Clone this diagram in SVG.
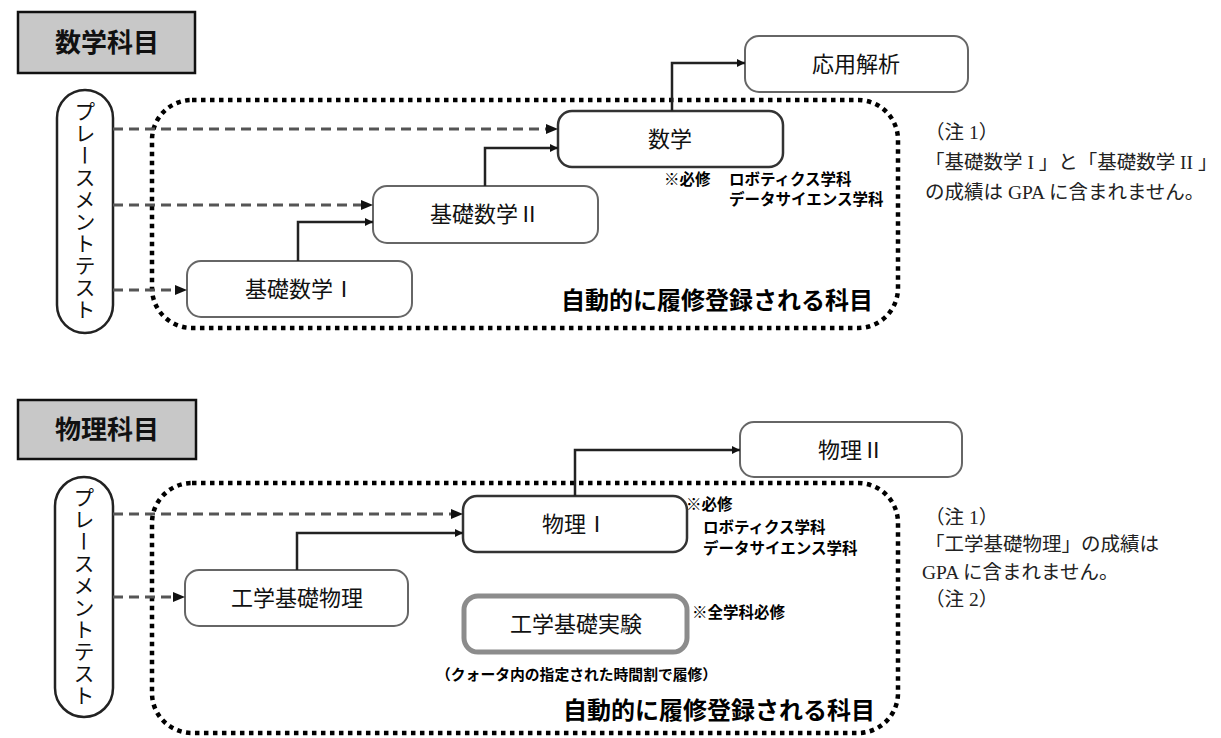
<svg xmlns="http://www.w3.org/2000/svg" width="1221" height="738" viewBox="0 0 1221 738">
<defs>
<marker id="ah" viewBox="0 0 10 10" refX="10" refY="5" markerWidth="10" markerHeight="8" markerUnits="userSpaceOnUse" orient="auto">
<path d="M0,0 L10,5 L0,10 z" fill="#111"/>
</marker>
<style>
.hdr{fill:#c8c8c8;stroke:#111;stroke-width:2.5}
.hdrt{font-family:"Noto Sans CJK JP",sans-serif;font-weight:bold;font-size:26px;fill:#111;text-anchor:middle}
.pill{fill:#fff;stroke:#222;stroke-width:2.5}
.pillt{font-family:"Noto Sans CJK JP",sans-serif;font-size:21px;fill:#111;writing-mode:vertical-rl;text-anchor:middle;letter-spacing:1px}
.box{fill:#fff;stroke:#666;stroke-width:2}
.boxd{fill:#fff;stroke:#333;stroke-width:2.5}
.boxg{fill:#fff;stroke:#8c8c8c;stroke-width:5}
.bt{font-family:"Noto Sans CJK JP",sans-serif;font-size:22px;fill:#111;text-anchor:middle}
.dot{fill:none;stroke:#000;stroke-width:4.5;stroke-dasharray:4.5 4.5}
.dash{fill:none;stroke:#555;stroke-width:3;stroke-dasharray:10 6}
.sol{fill:none;stroke:#222;stroke-width:2.5}
.lbl{font-family:"Noto Sans CJK JP",sans-serif;font-weight:bold;font-size:15.5px;fill:#000}
.auto{font-family:"Noto Sans CJK JP",sans-serif;font-weight:bold;font-size:24px;fill:#000}
.note{font-family:"Liberation Serif","Noto Sans CJK JP",serif;font-size:19.5px;fill:#222}
</style>
</defs>

<!-- ===== Math section ===== -->
<g id="math-header">
<rect class="hdr" x="18" y="12" width="177" height="61"/>
<text class="hdrt" x="107" y="52">数学科目</text>
</g>
<g id="math-auto-region">
<rect class="dot" x="152" y="100" width="746" height="228" rx="40" ry="40"/>
<text class="auto" x="561" y="309">自動的に履修登録される科目</text>
</g>
<g id="math-placement">
<rect class="pill" x="57" y="90" width="56" height="243" rx="28" ry="28"/>
<text class="pillt" x="85" y="211">プレースメントテスト</text>
</g>
<g id="ouyou">
<rect class="box" x="745" y="36" width="223" height="56" rx="14" ry="14"/>
<text class="bt" x="856" y="72">応用解析</text>
</g>
<g id="sugaku">
<rect class="boxd" x="558" y="111" width="225" height="56" rx="14" ry="14"/>
<text class="bt" x="670" y="147">数学</text>
</g>
<g id="kiso2">
<rect class="box" x="373" y="186" width="225" height="57" rx="14" ry="14"/>
<text class="bt" x="485" y="222">基礎数学Ⅱ</text>
</g>
<g id="kiso1">
<rect class="box" x="187" y="261" width="225" height="56" rx="14" ry="14"/>
<text class="bt" x="300" y="297">基礎数学Ⅰ</text>
</g>
<g id="math-labels">
<text class="lbl" x="664" y="185">※必修</text>
<text class="lbl" x="729" y="185">ロボティクス学科</text>
<text class="lbl" x="729" y="205">データサイエンス学科</text>
</g>
<g id="math-note">
<text class="note" x="925" y="139">（注 1）</text>
<text class="note" x="925" y="169">「基礎数学 I 」と「基礎数学 II 」</text>
<text class="note" x="925" y="199">の成績は GPA に含まれません。</text>
</g>

<!-- ===== Physics section ===== -->
<g id="phys-header">
<rect class="hdr" x="18" y="400" width="178" height="59"/>
<text class="hdrt" x="107" y="439">物理科目</text>
</g>
<g id="phys-auto-region">
<rect class="dot" x="152" y="483" width="746" height="250" rx="40" ry="40"/>
<text class="auto" x="563" y="719">自動的に履修登録される科目</text>
</g>
<g id="phys-placement">
<rect class="pill" x="55" y="477" width="58" height="240" rx="29" ry="29"/>
<text class="pillt" x="84" y="597">プレースメントテスト</text>
</g>
<g id="butsuri2">
<rect class="box" x="740" y="422" width="222" height="55" rx="14" ry="14"/>
<text class="bt" x="851" y="458">物理Ⅱ</text>
</g>
<g id="butsuri1">
<rect class="boxd" x="463" y="496" width="224" height="56" rx="14" ry="14"/>
<text class="bt" x="575" y="532">物理Ⅰ</text>
</g>
<g id="kogaku-butsuri">
<rect class="box" x="185" y="570" width="223" height="56" rx="14" ry="14"/>
<text class="bt" x="297" y="606">工学基礎物理</text>
</g>
<g id="kogaku-jikken">
<rect class="boxg" x="464" y="596" width="223" height="56" rx="14" ry="14"/>
<text class="bt" x="576" y="632">工学基礎実験</text>
</g>
<g id="phys-labels">
<text class="lbl" x="686" y="510">※必修</text>
<text class="lbl" x="703" y="533">ロボティクス学科</text>
<text class="lbl" x="703" y="554">データサイエンス学科</text>
<text class="lbl" x="692" y="618">※全学科必修</text>
<text class="lbl" x="436" y="680" style="font-size:14.8px">（クォータ内の指定された時間割で履修）</text>
</g>
<g id="phys-note">
<text class="note" x="925" y="524">（注 1）</text>
<text class="note" x="925" y="551">「工学基礎物理」の成績は</text>
<text class="note" x="922" y="579">GPA に含まれません。</text>
<text class="note" x="925" y="606">（注 2）</text>
</g>

<!-- ===== Connectors ===== -->
<g id="connectors">
<line class="dash" x1="113" y1="129" x2="548" y2="129"/>
<path d="M546,124 L558,129 L546,134 z" fill="#111"/>
<line class="dash" x1="113" y1="205" x2="362" y2="205"/>
<path d="M361,200 L373,205 L361,210 z" fill="#111"/>
<line class="dash" x1="113" y1="290" x2="176" y2="290"/>
<path d="M175,285 L187,290 L175,295 z" fill="#111"/>
<path class="sol" d="M298,261 V222 H373" marker-end="url(#ah)"/>
<path class="sol" d="M485,186 V148 H558" marker-end="url(#ah)"/>
<path class="sol" d="M672,111 V63 H745" marker-end="url(#ah)"/>

<line class="dash" x1="113" y1="514" x2="452" y2="514"/>
<path d="M451,509 L463,514 L451,519 z" fill="#111"/>
<line class="dash" x1="113" y1="597" x2="174" y2="597"/>
<path d="M173,592 L185,597 L173,602 z" fill="#111"/>
<path class="sol" d="M297,570 V533 H463" marker-end="url(#ah)"/>
<path class="sol" d="M575,496 V450 H740" marker-end="url(#ah)"/>
</g>
</svg>
